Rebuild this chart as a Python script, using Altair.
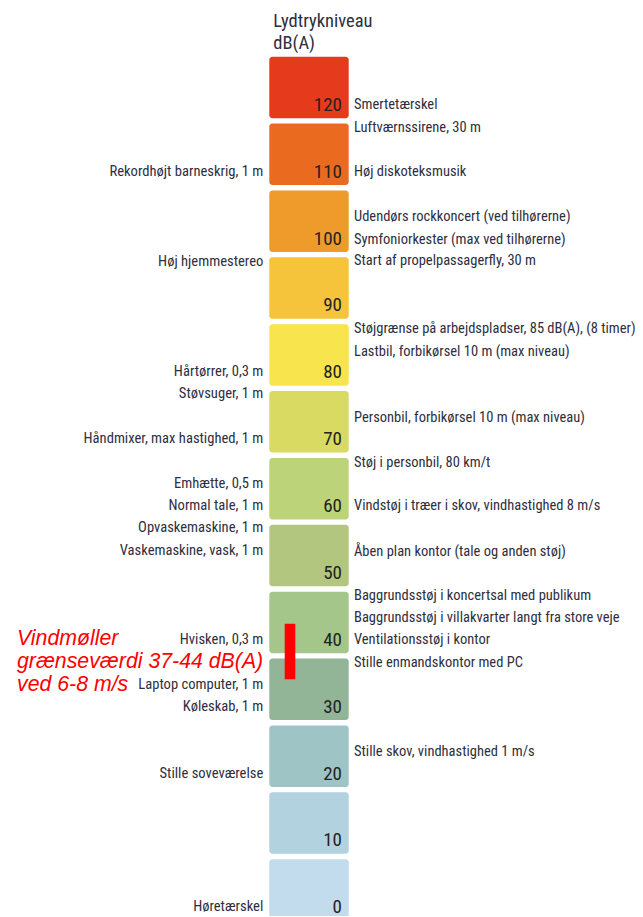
import altair as alt
import pandas as pd

# --- data ---
block_levels = [0, 10, 20, 30, 40, 50, 60, 70, 80, 90, 100, 110, 120]
block_colors = ["#C2DCEE", "#B2D2DF", "#9EC4C6", "#92B598", "#A4C68A", "#B2C67F",
                "#BDD37A", "#D9DA62", "#F8E44C", "#F5C43B", "#EE9B2C", "#EA6A20", "#E53A1B"]

left_labels = ["Rekordhøjt barneskrig, 1 m", "Høj hjemmestereo", "Hårtørrer, 0,3 m",
               "Støvsuger, 1 m", "Håndmixer, max hastighed, 1 m", "Emhætte, 0,5 m",
               "Normal tale, 1 m", "Opvaskemaskine, 1 m", "Vaskemaskine, vask, 1 m",
               "Hvisken, 0,3 m", "Laptop computer, 1 m", "Køleskab, 1 m",
               "Stille soveværelse", "Høretærskel"]
left_levels = [110, 96.5, 80, 76.7, 70, 63.3, 60, 56.7, 53.3, 40, 33.3, 30, 20, 0]

right_labels = ["Smertetærskel", "Luftværnssirene, 30 m", "Høj diskoteksmusik",
                "Udendørs rockkoncert (ved tilhørerne)", "Symfoniorkester (max ved tilhørerne)",
                "Start af propelpassagerfly, 30 m",
                "Støjgrænse på arbejdspladser, 85 dB(A), (8 timer)",
                "Lastbil, forbikørsel 10 m (max niveau)",
                "Personbil, forbikørsel 10 m (max niveau)", "Støj i personbil, 80 km/t",
                "Vindstøj i træer i skov, vindhastighed 8 m/s",
                "Åben plan kontor (tale og anden støj)",
                "Baggrundsstøj i koncertsal med publikum",
                "Baggrundsstøj i villakvarter langt fra store veje",
                "Ventilationsstøj i kontor", "Stille enmandskontor med PC",
                "Stille skov, vindhastighed 1 m/s"]
right_levels = [120, 116.6, 110, 103.3, 99.8, 96.6, 86.5, 83.0, 73.2, 66.5, 60, 53.2,
                46.6, 43.3, 40, 36.6, 23.3]

wind_range = [36.5, 44.8]
wind_text = "Vindmøller\ngrænseværdi 37-44 dB(A)\nved 6-8 m/s"
header_text = "Lydtrykniveau\ndB(A)"

# --- tables ---
blocks = pd.DataFrame({
    "level": block_levels,
    "lo": [v + 0.4 for v in block_levels],
    "hi": [v + 9.6 for v in block_levels],
    "color": block_colors,
    "label": [str(v) for v in block_levels],
})
left_df = pd.DataFrame({"text": left_labels, "level": left_levels})
right_df = pd.DataFrame({"text": right_labels, "level": right_levels})
wind_df = pd.DataFrame({"lo": [wind_range[0]], "hi": [wind_range[1]], "text": [wind_text]})
header_df = pd.DataFrame({"text": [header_text]})

FONT = "Liberation Sans Narrow, Roboto Condensed, DejaVu Sans Condensed, Roboto"
TXT = "#2e2e40"
LO = 1.1
yscale = alt.Scale(domain=[LO, 130], nice=False, zero=False)

rects = alt.Chart(blocks).mark_rect(cornerRadius=3, clip=True).encode(
    x=alt.value(261.3), x2=alt.value(340.7),
    y=alt.Y("lo:Q", scale=yscale, axis=None), y2="hi:Q",
    color=alt.Color("color:N", scale=None),
)

numbers = alt.Chart(blocks).mark_text(
    align="right", baseline="middle", dy=-16, font=FONT, fontSize=19, color="#222222"
).encode(x=alt.value(334), y=alt.Y("level:Q", scale=yscale), text="label:N")

left = alt.Chart(left_df).mark_text(
    align="right", baseline="middle", dy=-16, font=FONT, fontSize=14.6, color=TXT
).encode(x=alt.value(255.3), y=alt.Y("level:Q", scale=yscale), text="text:N")

right = alt.Chart(right_df).mark_text(
    align="left", baseline="middle", dy=-16, font=FONT, fontSize=14.5, color=TXT
).encode(x=alt.value(346), y=alt.Y("level:Q", scale=yscale), text="text:N")

bar = alt.Chart(wind_df).mark_rect(color="#FF0000").encode(
    x=alt.value(276.7), x2=alt.value(287.3),
    y=alt.Y("lo:Q", scale=yscale), y2="hi:Q",
)

wind_label = alt.Chart(wind_df).mark_text(
    align="left", baseline="alphabetic", lineBreak="\n", lineHeight=23,
    font="Liberation Sans, Arial, sans-serif", fontStyle="italic", fontSize=21.3, color="#FF0000"
).encode(x=alt.value(9), y=alt.value(591), text="text:N")

header = alt.Chart(header_df).mark_text(
    align="left", baseline="alphabetic", lineBreak="\n", lineHeight=22,
    font=FONT, fontSize=18.5, color=TXT
).encode(x=alt.value(265.3), y=alt.value(-27), text="text:N")

chart = alt.layer(rects, numbers, left, right, bar, wind_label, header).properties(
    width=627, height=862,
    autosize=alt.AutoSizeParams(type="none"),
    padding={"left": 0, "top": 46, "right": 0, "bottom": 0},
).configure_view(stroke=None)

chart.save("out.html", embed_options={"renderer": "svg", "actions": False})
